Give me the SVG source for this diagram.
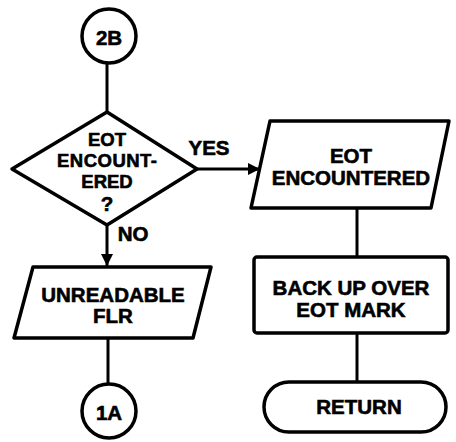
<svg xmlns="http://www.w3.org/2000/svg" width="456" height="442" viewBox="0 0 456 442">
<defs>
<style>
.s{fill:#fff;stroke:#000;stroke-width:3.5;stroke-linejoin:round}
.c{fill:none;stroke:#000;stroke-width:3}
text{font-family:"Liberation Sans",Arial,sans-serif;font-weight:bold;font-size:20.5px;text-anchor:middle;fill:#000;stroke:#000;stroke-width:0.6}
.d{font-size:18.5px}
</style>
<marker id="ah" viewBox="0 0 10 10" refX="10" refY="5" markerWidth="5" markerHeight="4" orient="auto" markerUnits="strokeWidth"><path d="M0,0 L10,5 L0,10 z" fill="#000"/></marker>
</defs>
<rect width="456" height="442" fill="#fff"/>
<g id="connectors">
<line class="c" x1="107" y1="63" x2="107" y2="112"/>
<line class="c" x1="196" y1="169" x2="260" y2="169" marker-end="url(#ah)"/>
<line class="c" x1="107" y1="224" x2="107" y2="266" marker-end="url(#ah)"/>
<line class="c" x1="108" y1="338" x2="108" y2="384"/>
<line class="c" x1="357" y1="208" x2="357" y2="257"/>
<line class="c" x1="357" y1="333" x2="357" y2="382"/>
<text x="209" y="155" font-size="19">YES</text>
<text x="133" y="241" font-size="18">NO</text>
</g>
<g id="n2B">
<circle class="s" cx="109" cy="36" r="27"/>
<text x="109" y="45" font-size="17">2B</text>
</g>
<g id="decision">
<polygon class="s" points="107,112 197,169 107,225 12,169"/>
<text class="d" x="107" y="146">EOT</text>
<text class="d" x="107" y="167" textLength="100">ENCOUNT-</text>
<text class="d" x="107" y="188">ERED</text>
<text x="107" y="211" font-size="14">?</text>
</g>
<g id="unreadable">
<polygon class="s" points="33,267 211,267 193,338 14,338"/>
<text x="113" y="302">UNREADABLE</text>
<text x="113" y="323">FLR</text>
</g>
<g id="n1A">
<circle class="s" cx="109" cy="411" r="27"/>
<text x="109" y="420" font-size="17">1A</text>
</g>
<g id="eot">
<polygon class="s" points="270,121 449,121 431,208 251,208"/>
<text x="351" y="163">EOT</text>
<text x="351" y="185">ENCOUNTERED</text>
</g>
<g id="backup">
<rect class="s" x="254" y="257" width="194" height="76" rx="3"/>
<text x="351" y="295">BACK UP OVER</text>
<text x="351" y="317">EOT MARK</text>
</g>
<g id="return">
<rect class="s" x="264" y="382" width="182" height="50" rx="25"/>
<text x="359" y="414">RETURN</text>
</g>
</svg>
